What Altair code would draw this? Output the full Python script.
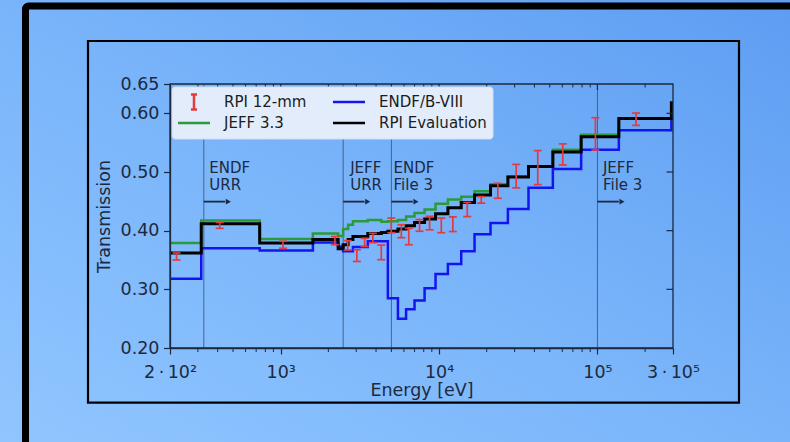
import altair as alt
import pandas as pd

# ---------------------------------------------------------------------------
# Data
# ---------------------------------------------------------------------------
# Energy-group edges (eV) shared by the evaluated transmission curves
edges = [200, 315, 737, 1597, 2305, 2480, 2665, 2858, 3549, 4318, 4750,
         5500, 6190, 7000, 8100, 9500, 11370, 13800, 16750, 21130, 27200,
         36700, 52300, 78900, 136500, 293000, 300000]

# Group-averaged transmission per group (one value per group)
endf_b8 = [0.318, 0.370, 0.366, 0.380, 0.373, 0.365, 0.365, 0.372, 0.382,
           0.382, 0.285, 0.250, 0.266, 0.281, 0.302, 0.326, 0.343, 0.365,
           0.394, 0.413, 0.437, 0.473, 0.505, 0.538, 0.571, 0.590]
jeff33 = [0.379, 0.4175, 0.386, 0.395, 0.391, 0.403, 0.410, 0.416, 0.418,
          0.415, 0.416, 0.418, 0.424, 0.430, 0.436, 0.446, 0.453, 0.458,
          0.467, 0.479, 0.4925, 0.5095, 0.538, 0.5635, 0.591, 0.591]
rpi_eval = [0.362, 0.412, 0.379, 0.385, 0.369, 0.376, 0.385, 0.390, 0.395,
            0.397, 0.399, 0.403, 0.4085, 0.414, 0.420, 0.429, 0.439, 0.448,
            0.461, 0.4765, 0.4915, 0.5095, 0.534, 0.560, 0.591, 0.618]

# RPI 12-mm measured transmission with 1-sigma uncertainty
rpi_E = [220, 412, 1034, 2200, 2650, 3026, 3390, 3818, 4316, 4990, 5775,
         6440, 7530, 8710, 10330, 12220, 15070, 18460, 23490, 30690, 41990,
         60400, 97100, 175400]
rpi_T = [0.356, 0.409, 0.376, 0.383, 0.375, 0.3575, 0.380, 0.3875, 0.363,
         0.409, 0.399, 0.390, 0.409, 0.413, 0.409, 0.411, 0.436, 0.4525,
         0.468, 0.493, 0.5075, 0.530, 0.565, 0.590]
rpi_err = [0.006, 0.005, 0.006, 0.007, 0.008, 0.010, 0.007, 0.008, 0.0125,
           0.0125, 0.011, 0.014, 0.010, 0.0115, 0.0125, 0.0125, 0.012,
           0.0055, 0.0128, 0.020, 0.029, 0.018, 0.0275, 0.0105]

# Region boundaries (eV) and their annotations
region_E = [327, 2480, 5000, 100000]
region_text = ["ENDF\nURR", "JEFF\nURR", "ENDF\nFile 3", "JEFF\nFile 3"]
region_text_E = [354, 2745, 5160, 108300]
region_text_T = 0.498
arrow_T = 0.4495

# Axis ticks
x_tick_values = [200, 1000, 10000, 100000, 300000]
x_tick_labels = ["2\u2009·\u200910²", "10³", "10⁴", "10⁵", "3\u2009·\u200910⁵"]
x_minor = [300, 400, 500, 600, 700, 800, 900,
           2000, 3000, 4000, 5000, 6000, 7000, 8000, 9000,
           20000, 30000, 40000, 50000, 60000, 70000, 80000, 90000, 200000]
x_major_top = [1000, 10000, 100000]
y_tick_values = [0.20, 0.30, 0.40, 0.50, 0.60, 0.65]
y_right_ticks = [0.30, 0.40, 0.50, 0.60]
y_range = [0.2, 0.65]

# Legend entries (column-major order for a two-column legend)
series_names = ["RPI 12-mm", "JEFF 3.3", "ENDF/B-VIII", "RPI Evaluation"]
series_colors = ["#e23b40", "#2a9b38", "#1414f0", "#000000"]
errbar_path = "M0,-0.47L0,0.47M-0.19,-0.47L0.19,-0.47M-0.19,0.47L0.19,0.47"
line_path = "M-1,0L1,0"
series_shapes = [errbar_path, line_path, line_path, line_path]

# ---------------------------------------------------------------------------
W, H = 503, 264
INK = "#1c2940"
FONT = "DejaVu Sans"

xs = alt.Scale(type="log", domain=[200, 300000], nice=False)
ys = alt.Scale(domain=y_range, nice=False, zero=False)


def step_frame(vals):
    rows = [{"E": e, "T": v} for e, v in zip(edges[:-1], vals)]
    rows.append({"E": edges[-1], "T": vals[-1]})
    return pd.DataFrame(rows)


label_expr = " : ".join(
    f"datum.value == {v} ? '{t}'" for v, t in zip(x_tick_values, x_tick_labels)
) + " : ''"

x_axis = alt.Axis(values=x_tick_values, labelExpr=label_expr, title="Energy [eV]",
                  grid=False, tickSize=6, tickWidth=1.2, tickColor=INK,
                  domainColor=INK, domainWidth=1.3, labelFontSize=17.5,
                  labelPadding=9, labelColor=INK, labelFlush=False,
                  labelOverlap=False, titleFontSize=17.5, titleFontWeight="normal",
                  titleColor=INK, titleY=47.5, titleBaseline="alphabetic", zindex=1)
y_axis = alt.Axis(values=y_tick_values, format=".2f", title="Transmission",
                  grid=False, tickSize=6.5, tickWidth=1.2, tickColor=INK,
                  domainColor=INK, domainWidth=1.3, labelFontSize=17.5,
                  labelPadding=4.5, labelColor=INK, labelFlush=False,
                  labelOverlap=False, titleFontSize=17.5, titleFontWeight="normal",
                  titleColor=INK, titleX=-66, titleY=H / 2, titleAngle=270,
                  titleAlign="center", titleBaseline="middle", zindex=1)


def X(field):
    return alt.X(field, scale=xs, axis=x_axis)


def Y(field):
    return alt.Y(field, scale=ys, axis=y_axis)


one = pd.DataFrame({"k": [0]})

# Page background and frames
background = alt.Chart(one).mark_rect(
    color=alt.LinearGradient(
        gradient="linear", x1=0, y1=1, x2=1, y2=0,
        stops=[alt.GradientStop(color="#90c6ff", offset=0),
               alt.GradientStop(color="#79b4fa", offset=0.5),
               alt.GradientStop(color="#5d9df2", offset=1)])
).encode(x=alt.value(-170), x2=alt.value(620), y=alt.value(-84), y2=alt.value(358))

outer_frame = alt.Chart(one).mark_rect(
    fillOpacity=0, stroke="#000000", strokeWidth=7, cornerRadius=3
).encode(x=alt.value(-144.5), x2=alt.value(623.5), y=alt.value(-78), y2=alt.value(364))

inner_frame = alt.Chart(one).mark_rect(
    fillOpacity=0, stroke="#000000", strokeWidth=2.2
).encode(x=alt.value(-82), x2=alt.value(569), y=alt.value(-43), y2=alt.value(318.7))

plot_box = alt.Chart(one).mark_rect(
    fillOpacity=0, stroke=INK, strokeWidth=1.3
).encode(x=alt.value(0), x2=alt.value(W), y=alt.value(0), y2=alt.value(H))

# Region boundaries, arrows and labels
regions = pd.DataFrame({"E": region_E, "label": region_text, "tE": region_text_E})
regions["E_end"] = regions["E"] * 10 ** 0.155
regions["E_line"] = regions["E"] * 10 ** 0.135
regions["ylo"] = y_range[0]
regions["yhi"] = y_range[1]
regions["aT"] = arrow_T
regions["tT"] = region_text_T

vlines = alt.Chart(regions).mark_rule(color="#2f4a70", strokeWidth=1, opacity=0.75).encode(
    x=X("E:Q"), y=Y("ylo:Q"), y2="yhi:Q")
arrows = alt.Chart(regions).mark_rule(color=INK, strokeWidth=1.8).encode(
    x=X("E:Q"), x2="E_line:Q", y=Y("aT:Q"))
heads = alt.Chart(regions).mark_point(shape="triangle-right", filled=True, size=34,
                                      color=INK, opacity=1).encode(
    x=X("E_end:Q"), y=Y("aT:Q"))
labels = alt.Chart(regions).mark_text(align="left", baseline="alphabetic", fontSize=15,
                                      lineHeight=16.7, lineBreak="\n", color=INK).encode(
    x=X("tE:Q"), y=Y("tT:Q"), text="label:N")

# Evaluated curves as step functions
jeff_line = alt.Chart(step_frame(jeff33)).mark_line(
    interpolate="step-after", color="#2a9b38", strokeWidth=2.5).encode(x=X("E:Q"), y=Y("T:Q"))
endf_line = alt.Chart(step_frame(endf_b8)).mark_line(
    interpolate="step-after", color="#1414f0", strokeWidth=2.5).encode(x=X("E:Q"), y=Y("T:Q"))
rpi_line = alt.Chart(step_frame(rpi_eval)).mark_line(
    interpolate="step-after", color="#000000", strokeWidth=3).encode(x=X("E:Q"), y=Y("T:Q"))

# Measured data with error bars
meas = pd.DataFrame({"E": rpi_E, "T": rpi_T, "err": rpi_err})
meas["lo"] = meas["T"] - meas["err"]
meas["hi"] = meas["T"] + meas["err"]
err_rule = alt.Chart(meas).mark_rule(color="#e23b40", strokeWidth=1.7).encode(
    x=X("E:Q"), y=Y("lo:Q"), y2="hi:Q")
err_cap_lo = alt.Chart(meas).mark_tick(orient="horizontal", color="#e23b40", size=8,
                                       thickness=1.7, opacity=1).encode(x=X("E:Q"), y=Y("lo:Q"))
err_cap_hi = alt.Chart(meas).mark_tick(orient="horizontal", color="#e23b40", size=8,
                                       thickness=1.7, opacity=1).encode(x=X("E:Q"), y=Y("hi:Q"))

# Inward ticks on the top and right frame, minor ticks on the bottom axis
top_major = alt.Chart(pd.DataFrame({"E": x_major_top})).mark_rule(color=INK, strokeWidth=1.2).encode(
    x=X("E:Q"), y=alt.value(0), y2=alt.value(6))
top_minor = alt.Chart(pd.DataFrame({"E": x_minor})).mark_rule(color=INK, strokeWidth=1).encode(
    x=X("E:Q"), y=alt.value(0), y2=alt.value(3.5))
bottom_minor = alt.Chart(pd.DataFrame({"E": x_minor})).mark_rule(color=INK, strokeWidth=1).encode(
    x=X("E:Q"), y=alt.value(H), y2=alt.value(H + 4))
right_ticks = alt.Chart(pd.DataFrame({"T": y_right_ticks})).mark_rule(color=INK, strokeWidth=1.2).encode(
    y=Y("T:Q"), x=alt.value(W - 6.5), x2=alt.value(W))

# Legend
leg = alt.Legend(title=None, orient="none", legendX=1.5, legendY=2.5, columns=2,
                 columnPadding=25, rowPadding=0, padding=5, labelOffset=12.5,
                 labelFontSize=15, labelFont=FONT, labelColor="#1c1c1c",
                 clipHeight=21, symbolSize=1024, symbolStrokeWidth=2.5,
                 fillColor="#e2ecfa", strokeColor="#d3def0", cornerRadius=3)
legend_layer = alt.Chart(pd.DataFrame({"series": series_names, "E": [1000] * 4,
                                       "T": [0.4] * 4})).transform_filter("false").mark_point(
    filled=False, size=1024, strokeWidth=2.5, opacity=1).encode(
    x=X("E:Q"), y=Y("T:Q"),
    color=alt.Color("series:N", scale=alt.Scale(domain=series_names, range=series_colors), legend=leg),
    shape=alt.Shape("series:N", scale=alt.Scale(domain=series_names, range=series_shapes), legend=leg),
)

chart = alt.layer(
    background, outer_frame, inner_frame, vlines, arrows, heads, labels,
    jeff_line, endf_line, rpi_line, err_rule, err_cap_lo, err_cap_hi,
    plot_box, top_major, top_minor, bottom_minor, right_ticks, legend_layer,
).properties(
    width=W, height=H,
    autosize=alt.AutoSizeParams(type="none"),
    padding={"left": 170, "top": 84, "right": 117, "bottom": 94},
).configure(
    background="#79b4fa", font=FONT,
).configure_view(
    strokeWidth=0,
)

chart.save("out.html", embed_options={"renderer": "svg", "actions": False})
